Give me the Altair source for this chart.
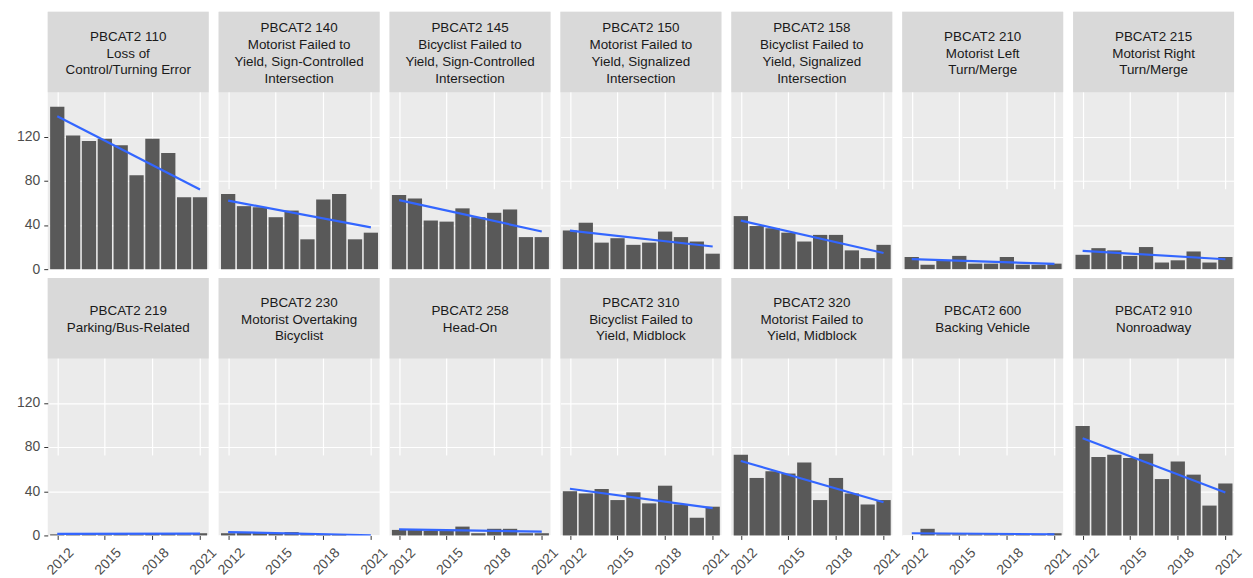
import altair as alt
import pandas as pd

# ---- data ----
cats = ["110", "140", "145", "150", "158", "210", "215",
        "219", "230", "258", "310", "320", "600", "910"]
labels = [
    "PBCAT2 110\nLoss of\nControl/Turning Error",
    "PBCAT2 140\nMotorist Failed to\nYield, Sign-Controlled\nIntersection",
    "PBCAT2 145\nBicyclist Failed to\nYield, Sign-Controlled\nIntersection",
    "PBCAT2 150\nMotorist Failed to\nYield, Signalized\nIntersection",
    "PBCAT2 158\nBicyclist Failed to\nYield, Signalized\nIntersection",
    "PBCAT2 210\nMotorist Left\nTurn/Merge",
    "PBCAT2 215\nMotorist Right\nTurn/Merge",
    "PBCAT2 219\nParking/Bus-Related",
    "PBCAT2 230\nMotorist Overtaking\nBicyclist",
    "PBCAT2 258\nHead-On",
    "PBCAT2 310\nBicyclist Failed to\nYield, Midblock",
    "PBCAT2 320\nMotorist Failed to\nYield, Midblock",
    "PBCAT2 600\nBacking Vehicle",
    "PBCAT2 910\nNonroadway",
]
years = [2012, 2013, 2014, 2015, 2016, 2017, 2018, 2019, 2020, 2021]

c110 = [147, 121, 116, 118, 112, 85, 118, 105, 65, 65]
c140 = [68, 57, 56, 47, 53, 27, 63, 68, 27, 33]
c145 = [67, 64, 44, 43, 55, 47, 51, 54, 29, 29]
c150 = [35, 42, 24, 28, 22, 24, 34, 29, 25, 14]
c158 = [48, 39, 37, 33, 25, 31, 31, 17, 10, 22]
c210 = [11, 4, 8, 12, 5, 5, 11, 4, 4, 5]
c215 = [13, 19, 17, 12, 20, 6, 8, 16, 6, 11]
c219 = [1, 2, 2, 1, 2, 1, 2, 2, 1, 2]
c230 = [2, 3, 3, 2, 3, 1, 1, 1, 0, 0]
c258 = [5, 5, 4, 4, 8, 2, 6, 6, 2, 2]
c310 = [40, 38, 42, 32, 39, 29, 45, 28, 16, 26]
c320 = [73, 52, 58, 56, 66, 32, 52, 38, 28, 32]
c600 = [0, 6, 1, 1, 1, 1, 1, 1, 1, 2]
c910 = [99, 71, 73, 70, 74, 51, 67, 55, 27, 47]

series = [c110, c140, c145, c150, c158, c210, c215,
          c219, c230, c258, c310, c320, c600, c910]

rows = []
for cat, lab, vals in zip(cats, labels, series):
    for yr, v in zip(years, vals):
        rows.append({"cat": cat, "label": lab, "year": yr, "count": v})
df = pd.DataFrame(rows)

# ---- layout / style ----
W = 162          # panel width
STRIP = 81       # strip height
PANEL = 178      # plot panel height
H = STRIP + PANEL
NCOL = 7
FONT = "Liberation Sans"
LH = 16.8        # strip text line height
CENTER = 42      # strip text block centre

xticks = [2012, 2015, 2018, 2021]
yticks = [0, 40, 80, 120]


def xscale():
    return alt.Scale(domain=[2011.4, 2021.55], nice=False, zero=False)


def yscale():
    return alt.Scale(domain=[0, 160], range=[H, STRIP], nice=False)


def grid_axis(values):
    return alt.Axis(values=values, title=None, labels=False, ticks=False,
                    domain=False, grid=True, gridColor="white", gridWidth=1.2,
                    minExtent=0, maxExtent=0)


def x_axis(show):
    if not show:
        return grid_axis(xticks)
    return alt.Axis(values=xticks, format="d", title=None,
                    labelAngle=-45, labelAlign="center", labelBaseline="middle",
                    labelPadding=22, labelOffset=3, labelFlush=False,
                    labelOverlap=False, tickSize=4, tickColor="#333333",
                    domain=False, labelColor="#4D4D4D", labelFontSize=14,
                    labelFont=FONT, grid=True, gridColor="white", gridWidth=1.2)


def y_axis(show):
    if not show:
        return grid_axis(yticks)
    return alt.Axis(values=yticks, title=None, labelPadding=4,
                    labelFlush=False, labelOverlap=False, tickSize=4,
                    tickColor="#333333", domain=False, labelColor="#4D4D4D",
                    labelFontSize=14, labelFont=FONT, grid=True,
                    gridColor="white", gridWidth=1.2)


def panel(i):
    cat = cats[i]
    nlines = labels[i].count("\n") + 1
    xa = x_axis(i // NCOL == 1)
    ya = y_axis(i % NCOL == 0)

    bars = alt.Chart().transform_calculate(
        x0="datum.year - 0.45", x1="datum.year + 0.45"
    ).mark_bar(color="#595959").encode(
        x=alt.X("x0:Q", scale=xscale(), axis=xa),
        x2="x1:Q",
        y=alt.Y("count:Q", scale=yscale(), axis=ya),
        y2=alt.datum(0),
    )

    line = alt.Chart().transform_regression(
        "year", "count"
    ).mark_line(color="#3366FF", strokeWidth=2.2, clip=True).encode(
        x=alt.X("year:Q", scale=xscale(), axis=xa),
        y=alt.Y("count:Q", scale=yscale(), axis=ya),
    )

    strip = alt.Chart().transform_filter("datum.year == 2012").mark_rect(
        color="#D9D9D9"
    ).encode(
        x=alt.value(0), x2=alt.value(W), y=alt.value(0), y2=alt.value(STRIP)
    )

    text = alt.Chart().transform_filter("datum.year == 2012").mark_text(
        lineBreak="\n", align="center", baseline="middle",
        font=FONT, fontSize=13.5, color="#1A1A1A", lineHeight=LH
    ).encode(
        text="label:N", x=alt.value(W / 2),
        y=alt.value(CENTER - (nlines - 1) * LH / 2)
    )

    return alt.layer(bars, line, strip, text, data=df).transform_filter(
        alt.datum.cat == cat
    ).properties(width=W, height=H)


row1 = alt.hconcat(*[panel(i) for i in range(0, NCOL)], spacing=10, bounds="flush")
row2 = alt.hconcat(*[panel(i) for i in range(NCOL, 2 * NCOL)], spacing=10, bounds="flush")

chart = alt.vconcat(row1, row2, spacing=2).properties(
    padding={"left": 8, "top": 2, "right": 0, "bottom": 0},
    background="white",
).configure_view(
    fill="#EBEBEB", strokeWidth=0
)

chart.save("out.html", embed_options={"renderer": "svg", "actions": False})
